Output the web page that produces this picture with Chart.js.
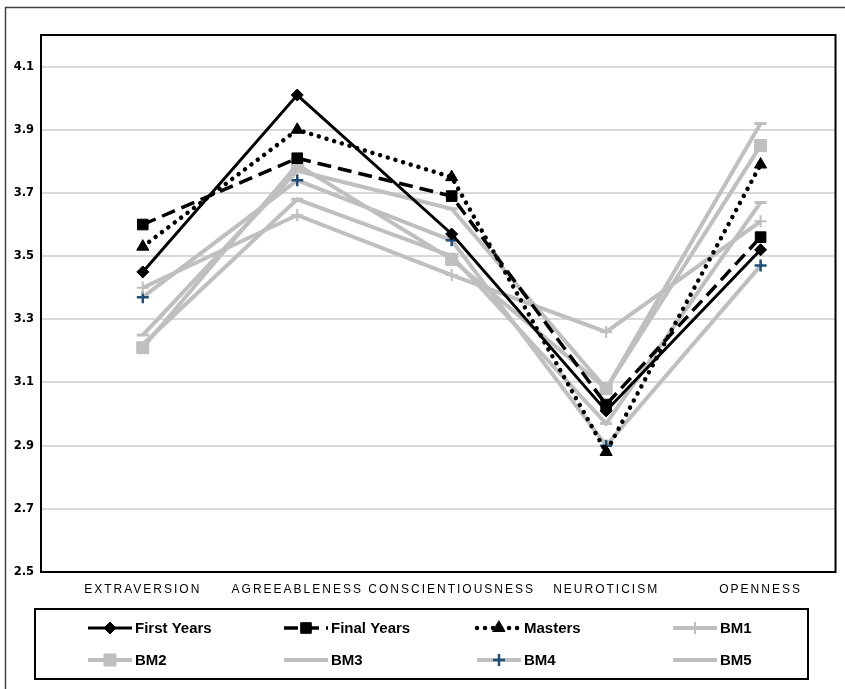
<!DOCTYPE html>
<html>
<head>
<meta charset="utf-8">
<script src="https://cdn.jsdelivr.net/npm/chart.js@4/dist/chart.umd.min.js"></script>
<style>
  html, body { margin: 0; padding: 0; background: #fff; }
  #wrap { width: 845px; height: 689px; }
</style>
</head>
<body>
<div id="wrap"><canvas id="c" width="845" height="689"></canvas></div>
<script>
// Big Five trait means per student group and benchmark samples
const categories = ['EXTRAVERSION', 'AGREEABLENESS', 'CONSCIENTIOUSNESS', 'NEUROTICISM', 'OPENNESS'];
const seriesNames = ['First Years', 'Final Years', 'Masters', 'BM1', 'BM2', 'BM3', 'BM4', 'BM5'];
const firstYears = [3.45, 4.01, 3.57, 3.01, 3.52];
const finalYears = [3.60, 3.81, 3.69, 3.03, 3.56];
const masters    = [3.53, 3.90, 3.75, 2.88, 3.79];
const bm1        = [3.40, 3.63, 3.44, 3.26, 3.61];
const bm2        = [3.21, 3.79, 3.49, 3.08, 3.85];
const bm3        = [3.25, 3.77, 3.65, 3.08, 3.92];
const bm4        = [3.37, 3.74, 3.55, 2.90, 3.47];
const bm5        = [3.22, 3.68, 3.50, 2.97, 3.67];
const yTicks     = [2.5, 2.7, 2.9, 3.1, 3.3, 3.5, 3.7, 3.9, 4.1];

const GREY = '#BFBFBF';
const toPoints = arr => arr.map((v, i) => ({ x: i, y: v }));

const styles = [
  { borderColor: '#000', borderWidth: 3, pointStyle: 'rectRot', pointRadius: 6, pointBackgroundColor: '#000', pointBorderColor: '#000', pointBorderWidth: 1 },
  { borderColor: '#000', borderWidth: 3.5, borderDash: [14, 7], pointStyle: 'rect', pointRadius: 7.5, pointBackgroundColor: '#000', pointBorderColor: '#000', pointBorderWidth: 1 },
  { borderColor: '#000', borderWidth: 4.5, borderDash: [0.01, 8], borderCapStyle: 'round', pointStyle: 'triangle', pointRadius: 7, pointBackgroundColor: '#000', pointBorderColor: '#000', pointBorderWidth: 1 },
  { borderColor: GREY, borderWidth: 4, pointStyle: 'cross', pointRadius: 6, pointBackgroundColor: GREY, pointBorderColor: GREY, pointBorderWidth: 2 },
  { borderColor: GREY, borderWidth: 4, pointStyle: 'rect', pointRadius: 8.5, pointBackgroundColor: GREY, pointBorderColor: GREY, pointBorderWidth: 1 },
  { borderColor: GREY, borderWidth: 4, pointStyle: 'line', pointRadius: 6, pointBackgroundColor: GREY, pointBorderColor: GREY, pointBorderWidth: 3 },
  { borderColor: GREY, borderWidth: 4, pointStyle: 'cross', pointRadius: 6, pointBackgroundColor: '#1F4E79', pointBorderColor: '#1F4E79', pointBorderWidth: 2.5 },
  { borderColor: GREY, borderWidth: 4, pointStyle: 'line', pointRadius: 6, pointBackgroundColor: GREY, pointBorderColor: GREY, pointBorderWidth: 3 }
];
const values = [firstYears, finalYears, masters, bm1, bm2, bm3, bm4, bm5];

const datasets = values.map((vals, i) => Object.assign({
  label: seriesNames[i],
  data: toPoints(vals),
  tension: 0,
  fill: false,
  borderJoinStyle: 'miter'
}, styles[i]));

// frame, plot border and the boxed legend
const decor = {
  id: 'decor',
  afterDatasetsDraw(chart) {
    // category labels are drawn after the datasets with wide letter spacing
    chart.ctx.letterSpacing = '2px';
  },
  afterDraw(chart) {
    const ctx = chart.ctx;
    ctx.letterSpacing = '0px';
    const a = chart.chartArea;
    ctx.save();
    ctx.strokeStyle = '#000';
    ctx.lineWidth = 2;
    ctx.strokeRect(a.left, a.top, a.right - a.left, a.bottom - a.top);

    ctx.strokeStyle = '#444';
    ctx.lineWidth = 1.5;
    ctx.strokeRect(5.5, 7.5, 860, 720);

    // legend box
    ctx.strokeStyle = '#000';
    ctx.lineWidth = 2;
    ctx.strokeRect(35, 609, 773, 70);

    const colX = [88, 284, 477, 673];
    const rowY = [628, 660];
    const sampleW = 44;
    chart.data.datasets.forEach((ds, i) => {
      const x0 = colX[i % 4];
      const y = rowY[Math.floor(i / 4)];
      ctx.save();
      ctx.strokeStyle = ds.borderColor;
      ctx.lineWidth = ds.borderWidth;
      ctx.lineCap = ds.borderCapStyle || 'butt';
      ctx.setLineDash(ds.borderDash || []);
      ctx.beginPath();
      ctx.moveTo(x0, y);
      ctx.lineTo(x0 + sampleW, y);
      ctx.stroke();
      ctx.setLineDash([]);
      ctx.fillStyle = ds.pointBackgroundColor;
      ctx.strokeStyle = ds.pointBorderColor;
      ctx.lineWidth = ds.pointBorderWidth;
      Chart.helpers.drawPoint(ctx, {
        pointStyle: ds.pointStyle,
        radius: ds.pointRadius,
        rotation: 0,
        borderWidth: ds.pointBorderWidth
      }, x0 + sampleW / 2, y);
      ctx.restore();

      ctx.fillStyle = '#000';
      ctx.font = 'bold 15px "Liberation Sans", Arial, sans-serif';
      ctx.textAlign = 'left';
      ctx.textBaseline = 'middle';
      ctx.fillText(ds.label, x0 + sampleW + 3, y + 1);
    });
    ctx.restore();
  }
};

new Chart(document.getElementById('c'), {
  type: 'line',
  data: { datasets },
  plugins: [decor],
  options: {
    responsive: false,
    animation: false,
    events: [],
    layout: { padding: { left: 5, top: 35, right: 8, bottom: 87 } },
    plugins: { legend: { display: false }, tooltip: { enabled: false } },
    scales: {
      x: {
        type: 'linear',
        min: -0.659,
        max: 4.485,
        afterBuildTicks: s => { s.ticks = categories.map((c, i) => ({ value: i })); },
        afterFit: s => { s.height = 30; },
        grid: { display: false, drawTicks: false },
        border: { display: false },
        ticks: {
          z: 1,
          autoSkip: false,
          maxRotation: 0,
          padding: 10,
          color: '#000',
          font: { family: '"Liberation Sans", Arial, sans-serif', size: 12 },
          callback: v => categories[v]
        }
      },
      y: {
        min: 2.5,
        max: 4.2,
        afterBuildTicks: s => { s.ticks = yTicks.map(v => ({ value: v })); },
        afterFit: s => { s.width = 36; },
        grid: { color: '#D9D9D9', lineWidth: 2, drawTicks: false },
        border: { display: false },
        ticks: {
          padding: 7,
          color: '#000',
          font: { family: '"DejaVu Sans", Verdana, sans-serif', size: 11.5, weight: 'bold' },
          callback: v => v.toFixed(1)
        }
      }
    }
  }
});
</script>
</body>
</html>
